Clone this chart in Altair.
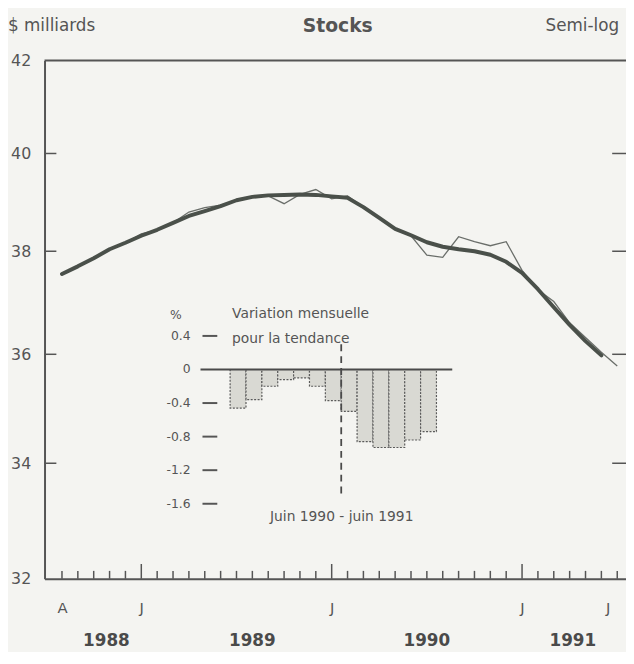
import altair as alt
import pandas as pd

# ---------------- data ----------------
# month index = months since January 1988 (0 = Jan 1988)
raw_start, trend_start = 7, 7          # August 1988
raw_values = [37.55, 37.70, 37.86, 38.04, 38.17, 38.35, 38.43, 38.57, 38.79, 38.88,
              38.93, 39.03, 39.10, 39.12, 38.96, 39.15, 39.25, 39.06, 39.12, 38.89,
              38.67, 38.45, 38.31, 37.92, 37.88, 38.29, 38.19, 38.11, 38.19, 37.62,
              37.24, 37.01, 36.60, 36.32, 36.04, 35.78]
trend_values = [37.55, 37.70, 37.86, 38.04, 38.17, 38.31, 38.43, 38.57, 38.71, 38.81,
                38.91, 39.03, 39.10, 39.13, 39.14, 39.15, 39.14, 39.11, 39.08, 38.89,
                38.67, 38.45, 38.32, 38.18, 38.09, 38.04, 38.00, 37.93, 37.79, 37.57,
                37.25, 36.90, 36.56, 36.25, 35.98]
y_ticks = [32, 34, 36, 38, 40, 42]
x_label_values = [7, 12, 24, 36, 41.4]
x_label_text = ["A", "J", "J", "J", "J"]
years = ["1988", "1989", "1990", "1991"]
year_pos = [9.8, 19.0, 30.0, 39.2]

# inset: monthly variation of the trend, June 1990 - June 1991
bar_months = ["1990-06", "1990-07", "1990-08", "1990-09", "1990-10", "1990-11", "1990-12",
              "1991-01", "1991-02", "1991-03", "1991-04", "1991-05", "1991-06"]
bar_values = [-0.46, -0.36, -0.20, -0.12, -0.10, -0.20, -0.37,
              -0.50, -0.86, -0.93, -0.93, -0.84, -0.74]
inset_ticks = [0.4, 0, -0.4, -0.8, -1.2, -1.6]

# ---------------- layout ----------------
W, H = 589, 525
FONT = "DejaVu Sans"
INK = "#555555"
BG = "#f4f4f1"

raw_df = pd.DataFrame({"m": list(range(raw_start, raw_start + len(raw_values))), "v": raw_values})
trend_df = pd.DataFrame({"m": list(range(trend_start, trend_start + len(trend_values))), "v": trend_values})
tick_df = pd.DataFrame({"m": list(range(7, 43))})
tick_df["jan"] = tick_df["m"] % 12 == 0
ytick_df = pd.DataFrame({"v": y_ticks[1:-1]})
year_df = pd.DataFrame({"m": year_pos, "t": years})

xs = alt.Scale(domain=[5.9, 5.9 + W / 16.07], nice=False, zero=False)
ys = alt.Scale(type="log", domain=[32, 42], nice=False, zero=False)

label_expr = " : ".join(
    f"datum.value == {v} ? '{t}'" for v, t in zip(x_label_values, x_label_text)) + " : ''"

x_axis = alt.Axis(values=x_label_values, labelExpr=label_expr, ticks=False, grid=False,
                  domain=True, domainColor=INK, domainWidth=2, labelFont=FONT,
                  labelFontSize=15, labelColor=INK, labelPadding=22, title=None)
y_axis = alt.Axis(values=y_ticks, format="d", ticks=False, grid=False, domain=True,
                  domainColor=INK, domainWidth=2, labelFont=FONT, labelFontSize=16,
                  labelColor=INK, labelPadding=14, title=None)

raw = alt.Chart(raw_df).mark_line(color="#6a6e6a", strokeWidth=1.3).encode(
    x=alt.X("m:Q", scale=xs, axis=x_axis),
    y=alt.Y("v:Q", scale=ys, axis=y_axis),
)
trend = alt.Chart(trend_df).mark_line(color="#4a504a", strokeWidth=4, strokeCap="round",
                                      strokeJoin="round").encode(
    x=alt.X("m:Q", scale=xs), y=alt.Y("v:Q", scale=ys))

minor = alt.Chart(tick_df).transform_filter("!datum.jan").mark_rule(
    color=INK, strokeWidth=1.5).encode(x=alt.X("m:Q", scale=xs), y=alt.value(H), y2=alt.value(H - 8))
major = alt.Chart(tick_df).transform_filter("datum.jan").mark_rule(
    color=INK, strokeWidth=1.5).encode(x=alt.X("m:Q", scale=xs), y=alt.value(H), y2=alt.value(H - 15))
left_t = alt.Chart(ytick_df).mark_rule(color=INK, strokeWidth=1.5).encode(
    y=alt.Y("v:Q", scale=ys), x=alt.value(0), x2=alt.value(12))
right_t = alt.Chart(ytick_df).mark_rule(color=INK, strokeWidth=1.5).encode(
    y=alt.Y("v:Q", scale=ys), x=alt.value(W - 14), x2=alt.value(W))
top_line = alt.Chart(pd.DataFrame({"a": [0]})).mark_rule(color=INK, strokeWidth=2).encode(
    x=alt.value(0), x2=alt.value(W), y=alt.value(0))
year_txt = alt.Chart(year_df).mark_text(font=FONT, fontSize=17, fontWeight="bold",
                                        color="#4a4a4a").encode(
    x=alt.X("m:Q", scale=xs), y=alt.value(H + 63), text="t:N")


def label(txt, x, y, align="left", size=15, weight="normal"):
    return alt.Chart(pd.DataFrame({"t": [txt]})).mark_text(
        font=FONT, fontSize=size, fontWeight=weight, color=INK, align=align,
        baseline="middle").encode(x=alt.value(x), y=alt.value(y), text="t:N")


titles = [
    label("$ milliards", -37, -35, "left", 17),
    label("Stocks", 297, -35, "center", 19, "bold"),
    label("Semi-log", 582, -35, "right", 17),
]

main = alt.layer(raw, trend, minor, major, left_t, right_t, top_line, year_txt, *titles)

# ---------------- inset ----------------
bar_df = pd.DataFrame({"month": bar_months, "v": bar_values})
bar_df["i"] = list(range(len(bar_months)))
bar_df["i2"] = bar_df["i"] + 1
ix = alt.Scale(domain=[0, len(bar_months)], range=[188, 397], nice=False, zero=False)
iy = alt.Scale(domain=[-1.6, 0.4], range=[449, 279], nice=False, zero=False)

bars = alt.Chart(bar_df).mark_rect(fill="#d9d9d3", stroke="#5a5a5a", strokeWidth=1.2,
                                   strokeDash=[2, 1.5]).encode(
    x=alt.X("i:Q", scale=ix, axis=None), x2="i2:Q",
    y=alt.Y("v:Q", scale=iy, axis=None), y2=alt.datum(0))
itick_df = pd.DataFrame({"v": inset_ticks})
itick_df["t"] = [("%g" % v) if v != 0 else "0" for v in inset_ticks]
ilabels = alt.Chart(itick_df).mark_text(font=FONT, fontSize=12.5, color=INK, align="right",
                                        baseline="middle").encode(
    y=alt.Y("v:Q", scale=iy, axis=None), x=alt.value(148), text="t:N")
idash = alt.Chart(itick_df).transform_filter("datum.v != 0").mark_rule(
    color=INK, strokeWidth=2).encode(
    y=alt.Y("v:Q", scale=iy, axis=None), x=alt.value(160), x2=alt.value(175))
zero = alt.Chart(pd.DataFrame({"v": [0]})).mark_rule(color="#4a4a4a", strokeWidth=2).encode(
    y=alt.Y("v:Q", scale=iy, axis=None), x=alt.value(158), x2=alt.value(413))
split = alt.Chart(pd.DataFrame({"i": [7], "a": [0.3], "b": [-1.48]})).mark_rule(
    color="#4a4a4a", strokeWidth=1.8, strokeDash=[7, 5]).encode(
    x=alt.X("i:Q", scale=ix, axis=None), y=alt.Y("a:Q", scale=iy, axis=None), y2="b:Q")

inset_text = [
    label("%", 133, 258, "center", 12.5),
    label("Variation mensuelle", 190, 257, "left", 14),
    label("pour la tendance", 190, 282, "left", 14),
    label("Juin 1990 - juin 1991", 301, 462, "center", 14),
]

inset = alt.layer(bars, zero, split, idash, ilabels, *inset_text)

chart = alt.layer(main, inset).resolve_scale(x="independent", y="independent").properties(
    width=W, height=H,
    autosize=alt.AutoSizeParams(type="none"),
    padding={"left": 37, "top": 49, "right": 0, "bottom": 70},
    background=BG,
).configure_view(stroke=None)

chart.save("out.html", embed_options={"renderer": "svg", "actions": False})
